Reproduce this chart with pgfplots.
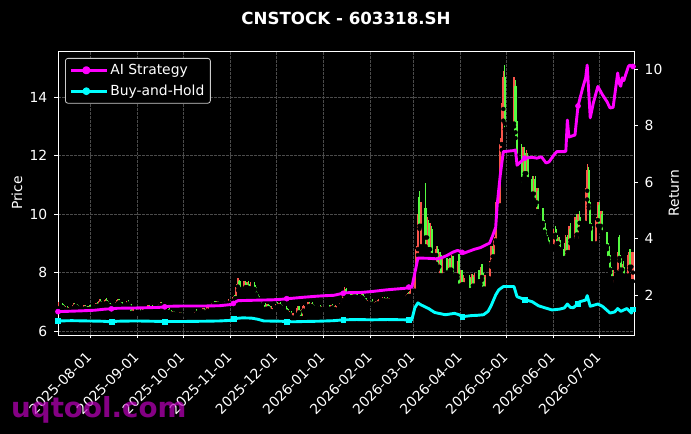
\documentclass[border=0pt]{standalone}
\usepackage{pgfplots}
\pgfplotsset{compat=1.18}
\usepackage{pgfplotstable}
\usepackage{fontspec}
\setmainfont{DejaVu Sans}
\definecolor{cup}{RGB}{250,85,75}
\definecolor{cdown}{RGB}{85,250,65}
\definecolor{gridc}{RGB}{75,75,75}
\definecolor{legc}{RGB}{204,204,204}
\definecolor{wm}{RGB}{190,0,190}
\definecolor{mag}{RGB}{255,0,255}
\definecolor{cya}{RGB}{0,255,255}
\newcommand\tf{\fontsize{13.89bp}{16bp}\selectfont}

\pgfplotstableread{
d o h l c
-21 6.78 6.98 6.72 6.92
-18 6.92 6.96 6.78 6.82
-17 6.82 6.90 6.70 6.75
-16 6.75 6.85 6.66 6.80
-15 6.80 6.84 6.68 6.72
-14 6.72 6.82 6.65 6.78
-11 6.78 6.95 6.74 6.90
-10 6.90 6.96 6.80 6.84
-9 6.84 6.92 6.76 6.88
-8 6.88 6.94 6.78 6.80
-7 6.80 6.86 6.70 6.76
-4 6.76 6.88 6.72 6.85
-3 6.85 6.90 6.74 6.78
-2 6.78 6.84 6.70 6.74
-1 6.74 6.86 6.70 6.82
0 6.82 6.88 6.72 6.76
3 6.76 6.90 6.72 6.86
4 6.86 6.96 6.80 6.92
5 6.92 7.00 6.82 6.86
6 6.86 7.10 6.84 7.04
7 7.04 7.08 6.90 6.94
10 6.94 7.10 6.90 7.05
11 7.05 7.12 6.92 6.96
12 6.96 7.02 6.85 6.88
13 6.88 6.96 6.80 6.84
14 6.84 6.92 6.76 6.88
17 6.88 6.98 6.84 6.94
18 6.94 7.10 6.90 7.06
19 7.06 7.10 6.92 6.98
20 6.98 7.04 6.86 6.90
21 6.90 6.98 6.82 6.86
24 6.86 7.02 6.84 6.98
25 6.98 7.06 6.90 6.94
26 6.94 7.00 6.80 6.84
27 6.84 6.92 6.56 6.62
28 6.62 6.80 6.58 6.74
31 6.74 6.78 6.60 6.66
32 6.66 6.76 6.58 6.72
33 6.72 6.74 6.56 6.60
34 6.60 6.70 6.54 6.66
35 6.66 6.78 6.62 6.74
38 6.74 6.88 6.70 6.84
39 6.84 6.90 6.74 6.78
40 6.78 6.86 6.72 6.82
41 6.82 6.88 6.74 6.76
42 6.76 6.84 6.70 6.80
45 6.80 6.92 6.76 6.88
46 6.88 6.98 6.82 6.94
47 6.94 7.00 6.84 6.88
48 6.88 6.94 6.78 6.82
49 6.82 6.88 6.72 6.76
52 6.76 6.80 6.62 6.66
53 6.66 6.72 6.54 6.58
54 6.58 6.68 6.52 6.64
55 6.64 6.70 6.56 6.60
56 6.60 6.66 6.50 6.56
59 6.56 6.64 6.50 6.60
60 6.60 6.66 6.52 6.56
69 6.56 6.70 6.52 6.66
70 6.66 6.74 6.56 6.62
73 6.62 6.72 6.54 6.68
74 6.68 6.78 6.60 6.74
75 6.74 6.80 6.58 6.62
76 6.62 6.74 6.50 6.70
77 6.70 6.86 6.66 6.82
80 6.82 6.96 6.80 6.92
81 6.92 7.00 6.86 6.96
82 6.96 7.02 6.88 6.92
83 6.92 7.04 6.88 7.00
84 7.00 7.04 6.90 6.94
87 6.94 7.00 6.88 6.96
88 6.96 7.02 6.90 6.94
89 6.94 7.00 6.86 6.98
90 6.98 7.04 6.92 6.96
91 6.96 7.08 6.94 7.04
94 7.04 7.20 7.00 7.16
95 7.16 7.22 7.06 7.12
96 7.12 7.60 7.10 7.52
97 7.52 7.82 7.40 7.70
98 7.70 7.76 7.38 7.44
101 7.44 7.70 7.40 7.64
102 7.64 7.72 7.46 7.50
103 7.50 7.68 7.44 7.62
104 7.62 7.70 7.40 7.46
105 7.46 7.66 7.42 7.58
108 7.58 7.68 7.40 7.44
109 7.44 7.50 7.22 7.26
110 7.26 7.34 7.08 7.12
111 7.12 7.20 6.96 7.00
112 7.00 7.06 6.84 6.88
115 6.88 6.96 6.72 6.76
116 6.76 6.92 6.70 6.88
117 6.88 6.94 6.74 6.78
118 6.78 6.86 6.62 6.68
119 6.68 6.84 6.64 6.80
122 6.80 6.94 6.76 6.90
123 6.90 6.98 6.82 6.86
124 6.86 6.96 6.78 6.92
125 6.92 6.98 6.80 6.84
126 6.84 6.90 6.74 6.78
129 6.78 6.84 6.62 6.66
130 6.66 6.74 6.52 6.58
131 6.58 6.70 6.50 6.64
132 6.64 6.70 6.40 6.46
133 6.46 6.62 6.38 6.56
136 6.56 6.86 6.52 6.80
137 6.80 6.84 6.60 6.64
138 6.64 6.72 6.38 6.44
139 6.44 6.76 6.40 6.70
140 6.70 6.88 6.66 6.84
143 6.84 6.98 6.80 6.94
144 6.94 7.00 6.82 6.86
145 6.86 6.96 6.78 6.92
146 6.92 6.98 6.80 6.84
147 6.84 6.90 6.74 6.78
150 6.78 6.86 6.72 6.82
151 6.82 6.88 6.74 6.76
152 6.76 6.84 6.70 6.80
157 6.80 6.88 6.72 6.76
158 6.76 6.90 6.74 6.86
159 6.86 6.92 6.76 6.80
160 6.80 6.86 6.70 6.74
161 6.74 6.88 6.72 6.84
164 6.84 6.96 6.80 6.92
165 6.92 7.10 6.90 7.06
166 7.06 7.30 7.02 7.24
167 7.24 7.50 7.20 7.44
168 7.44 7.48 7.20 7.26
171 7.26 7.36 7.10 7.16
172 7.16 7.30 7.12 7.26
173 7.26 7.34 7.14 7.18
174 7.18 7.30 7.10 7.24
175 7.24 7.32 7.12 7.16
178 7.16 7.26 7.06 7.22
179 7.22 7.28 7.08 7.12
180 7.12 7.20 7.00 7.04
181 7.04 7.12 6.92 6.96
182 6.96 7.06 6.88 7.02
185 7.02 7.10 6.90 6.94
186 6.94 7.00 6.86 6.90
187 6.90 7.02 6.86 6.98
188 6.98 7.04 6.90 6.94
189 6.94 7.10 6.92 7.06
192 7.06 7.16 7.00 7.12
193 7.12 7.18 7.00 7.04
194 7.04 7.14 6.98 7.10
195 7.10 7.16 7.00 7.04
196 7.04 7.12 6.96 7.08
207 7.08 7.22 7.04 7.18
208 7.18 7.30 7.12 7.26
209 7.26 7.34 7.16 7.20
210 7.20 7.42 7.18 7.38
213 7.38 8.10 7.36 8.06
214 8.06 8.90 8.00 8.80
215 8.80 10.00 8.60 9.90
216 10.60 10.80 9.50 9.60
217 9.60 10.40 8.90 10.20
220 10.20 11.06 8.90 9.20
221 9.20 9.90 8.80 9.70
222 9.70 9.80 8.70 8.80
223 8.80 9.70 8.60 9.50
224 9.50 9.60 8.50 8.60
227 8.60 8.90 8.30 8.80
228 8.80 8.90 8.10 8.20
229 8.20 8.70 7.90 8.60
230 8.60 8.70 7.80 7.90
231 7.90 8.50 7.80 8.40
234 8.40 8.50 7.90 8.00
235 8.00 8.45 7.85 8.35
236 8.35 8.50 7.95 8.10
237 8.10 8.60 8.00 8.50
238 8.50 8.55 7.80 7.90
241 7.90 8.40 7.80 8.30
242 8.30 8.65 7.45 7.55
243 7.55 8.10 7.45 8.00
244 8.00 8.10 7.50 7.60
245 7.60 7.90 7.40 7.80
249 7.80 7.90 7.30 7.40
250 7.40 7.95 7.30 7.85
251 7.85 7.95 7.45 7.55
252 7.55 8.00 7.45 7.90
255 7.90 8.10 7.60 7.70
256 7.70 8.20 7.60 8.10
257 8.10 8.30 7.75 7.85
258 7.85 8.00 7.35 7.45
259 7.45 7.90 7.40 7.80
262 7.80 8.40 7.70 8.30
263 8.30 8.90 8.20 8.80
264 8.80 8.90 8.40 8.55
265 8.55 9.20 8.45 9.10
266 9.10 10.40 9.00 10.30
269 10.30 12.60 10.20 12.40
270 12.40 13.80 12.20 13.60
271 13.60 14.90 13.20 14.70
272 14.70 15.10 12.90 13.10
278 13.10 14.70 13.00 14.40
279 14.40 14.60 12.60 12.80
280 12.80 13.20 11.80 12.00
283 12.00 12.40 11.00 11.20
284 11.20 12.30 11.10 12.10
285 12.10 12.30 11.30 11.40
286 11.40 12.20 11.20 12.00
287 12.00 12.10 11.10 11.20
290 11.20 11.30 10.60 10.70
291 10.70 11.30 10.50 11.20
292 11.20 11.30 10.30 10.40
293 10.40 10.90 10.10 10.80
294 10.80 10.90 10.00 10.10
297 10.10 10.20 9.60 9.70
298 9.70 9.80 9.30 9.40
299 9.40 9.50 9.10 9.20
300 9.20 9.30 8.90 9.00
301 9.00 9.10 8.80 8.90
304 8.90 9.50 8.80 9.40
305 9.40 9.60 9.20 9.30
306 9.30 9.50 8.90 9.00
307 9.00 9.20 8.85 9.10
308 9.10 9.20 8.70 8.80
311 8.80 9.00 8.40 8.50
312 8.50 9.30 8.40 9.20
313 9.20 9.30 8.60 8.70
314 8.70 9.60 8.60 9.50
315 9.50 9.70 9.00 9.10
318 9.10 9.90 9.00 9.80
319 9.80 10.00 9.20 9.30
320 9.30 10.00 9.10 9.90
321 9.90 10.10 9.50 9.70
325 9.70 10.90 9.60 10.80
326 10.80 11.70 10.50 11.50
327 11.50 11.60 10.20 10.30
328 10.30 10.40 9.50 9.60
329 9.60 9.70 8.90 9.00
332 9.00 9.90 8.90 9.80
333 9.80 10.40 9.60 10.30
334 10.30 10.40 9.50 9.60
335 9.60 10.10 9.40 10.00
336 10.00 10.10 9.20 9.30
339 9.30 9.40 8.80 8.90
340 8.90 9.00 8.40 8.50
341 8.50 8.60 8.00 8.10
342 8.10 8.20 7.70 7.80
343 7.80 8.10 7.60 8.00
346 8.00 8.70 7.90 8.60
347 9.20 9.30 8.40 8.50
348 8.50 8.60 8.00 8.10
349 8.10 8.30 7.90 8.20
350 8.20 8.40 7.80 7.90
353 7.90 8.70 7.80 8.60
354 8.60 8.80 8.10 8.20
355 8.20 8.70 7.70 8.60
356 8.00 8.70 7.70 8.50
}\candles

\begin{document}
\begin{tikzpicture}
\fill[black] (0,0) rectangle (691bp,434bp);
\begin{axis}[
  at={(58bp,99bp)}, anchor=south west, scale only axis,
  width=576bp, height=284bp,
  xmin=-21, xmax=356.7, ymin=5.863, ymax=15.585,
  axis line style={white, line width=0.8bp},
  tick style={white, line width=0.8bp}, major tick length=3.5bp, tick align=outside,
  xtick pos=bottom, ytick pos=left,
  xtick={0,31,61,92,122,153,184,212,243,273,304,334},
  xticklabels={2025-08-01,2025-09-01,2025-10-01,2025-11-01,2025-12-01,2026-01-01,2026-02-01,2026-03-01,2026-04-01,2026-05-01,2026-06-01,2026-07-01},
  x tick label style={xshift=-5bp, yshift=-12bp, rotate=45, anchor=north east, inner sep=0pt, font=\tf, text=white},
  ytick={6,8,10,12,14},
  y tick label style={font=\tf, text=white, inner sep=0pt, xshift=-7bp},
  /pgf/number format/assume math mode=true,
  grid=major, major grid style={gridc, dash pattern=on 2.5bp off 1.5bp, line width=0.6bp},
  ylabel={Price}, ylabel style={font=\tf, text=white, at={(axis description cs:-0.0712,0.5)}, anchor=center},
]
\addplot[only marks, mark=none, forget plot, error bars/.cd, y dir=plus, y explicit, error mark=none, error bar style={draw=cup, line width=1.3bp}]
  table[x=d, y expr={(\thisrow{c}>=\thisrow{o}) ? \thisrow{l} : -50}, y error expr={\thisrow{h}-\thisrow{l}}] {\candles};
\addplot[only marks, mark=none, forget plot, error bars/.cd, y dir=plus, y explicit, error mark=none, error bar style={draw=cup, line width=2.1bp}]
  table[x=d, y expr={(\thisrow{c}>=\thisrow{o}) ? \thisrow{o} : -50}, y error expr={abs(\thisrow{c}-\thisrow{o})}] {\candles};
\addplot[only marks, mark=none, forget plot, error bars/.cd, y dir=plus, y explicit, error mark=none, error bar style={draw=cdown, line width=1.3bp}]
  table[x=d, y expr={(\thisrow{c}<\thisrow{o}) ? \thisrow{l} : -50}, y error expr={\thisrow{h}-\thisrow{l}}] {\candles};
\addplot[only marks, mark=none, forget plot, error bars/.cd, y dir=plus, y explicit, error mark=none, error bar style={draw=cdown, line width=2.1bp}]
  table[x=d, y expr={(\thisrow{c}<\thisrow{o}) ? \thisrow{c} : -50}, y error expr={abs(\thisrow{c}-\thisrow{o})}] {\candles};
\end{axis}

\begin{axis}[
  at={(58bp,99bp)}, anchor=south west, scale only axis,
  width=576bp, height=284bp,
  xmin=-21, xmax=356.7, ymin=0.582, ymax=10.649,
  axis line style={draw=none},
  tick style={white, line width=0.8bp}, major tick length=3.5bp, tick align=outside,
  xtick=\empty, ytick pos=right,
  ytick={2,4,6,8,10},
  y tick label style={font=\tf, text=white, inner sep=0pt, xshift=7bp},
  /pgf/number format/assume math mode=true,
  ylabel={Return}, ylabel style={font=\tf, text=white, at={(axis description cs:1.0694,0.5)}, anchor=center},
  legend style={at={(axis description cs:0,1)}, anchor=north west, xshift=7bp, yshift=-7bp,
    fill=black, draw=legc, line width=0.8bp, rounded corners=2.5bp, text=white, font=\tf,
    inner xsep=4bp, inner ysep=4bp, row sep=5bp},
  legend cell align=left,
]
\addplot[mag, line width=2.9bp, line join=round,
  legend image code/.code={\path (0bp,0bp) -- (36bp,0bp); \draw[mag, line width=2.9bp] (0bp,0bp) -- (31bp,0bp); \fill[mag] (15.5bp,0bp) circle (2.6bp);}]
coordinates {(-21,1.41) (-15,1.42) (-5,1.44) (3,1.46) (10,1.50) (14,1.51) (18,1.53) (30,1.54) (45,1.56) (49,1.58) (52,1.60) (60,1.61) (75,1.61) (85,1.62) (92,1.66) (94,1.70) (95,1.74) (97,1.80) (105,1.81) (120,1.83) (126,1.85) (129,1.87) (132,1.88) (140,1.92) (147,1.95) (152,1.97) (160,1.99) (164,2.04) (166,2.06) (168,2.08) (178,2.09) (186,2.13) (194,2.18) (207,2.24) (209,2.28) (210,2.30) (211,2.27) (213,2.78) (215,3.31) (222,3.30) (228,3.28) (231,3.33) (234,3.40) (238,3.52) (241,3.58) (243,3.54) (244,3.51) (245,3.48) (249,3.56) (252,3.62) (256,3.68) (259,3.76) (262,3.84) (264,4.10) (266,4.40) (267,5.20) (269,6.25) (271,7.08) (278,7.12) (279,7.14) (280,6.60) (283,6.75) (285,6.85) (290,6.88) (293,6.85) (296,6.90) (299,6.68) (301,6.72) (304,6.95) (306,7.08) (311,7.08) (312,7.10) (313,8.20) (314,7.60) (318,7.67) (319,8.20) (320,8.70) (323,9.33) (325,9.70) (326,10.15) (327,9.20) (328,8.28) (330,8.80) (332,9.20) (333,9.39) (336,9.10) (339,8.85) (341,8.63) (343,8.65) (346,9.87) (347,9.50) (348,9.40) (349,9.70) (350,9.60) (353,10.10) (354,10.15) (356,10.10)};
\addlegendentry{AI Strategy}
\addplot[cya, line width=2.9bp, line join=round,
  legend image code/.code={\path (0bp,0bp) -- (36bp,0bp); \draw[cya, line width=2.9bp] (0bp,0bp) -- (31bp,0bp); \fill[cya] (13.1bp,-2.4bp) rectangle (17.9bp,2.4bp);}]
coordinates {(-21,1.08) (-12,1.09) (-2,1.08) (8,1.07) (14,1.05) (18,1.07) (30,1.08) (40,1.07) (49,1.06) (60,1.06) (75,1.07) (85,1.08) (92,1.10) (94,1.15) (96,1.17) (100,1.19) (106,1.18) (110,1.14) (114,1.08) (125,1.07) (129,1.06) (133,1.05) (140,1.06) (150,1.07) (160,1.09) (166,1.12) (175,1.13) (185,1.12) (195,1.13) (207,1.12) (209,1.13) (210,1.14) (211,1.12) (213,1.55) (215,1.72) (217,1.65) (222,1.52) (226,1.38) (233,1.30) (239,1.35) (242,1.30) (244,1.23) (250,1.27) (254,1.28) (258,1.30) (261,1.42) (263,1.62) (266,2.00) (268,2.18) (271,2.30) (278,2.30) (280,1.94) (285,1.84) (290,1.76) (294,1.62) (298,1.55) (303,1.47) (308,1.50) (311,1.54) (313,1.68) (315,1.56) (317,1.55) (320,1.70) (321,1.76) (325,1.82) (326,1.98) (328,1.60) (333,1.68) (336,1.60) (341,1.36) (344,1.40) (346,1.52) (348,1.42) (352,1.52) (355,1.36) (356,1.50)};
\addlegendentry{Buy-and-Hold}
\addplot[only marks, mark=*, mark size=2.6bp, mag, forget plot]
coordinates {(-21,1.41) (14,1.51) (49,1.58) (94,1.70) (129,1.87) (166,2.06) (209,2.28) (244,3.51) (285,6.85) (320,8.70) (356,10.10)};
\addplot[only marks, mark=square*, mark size=2.4bp, cya, forget plot]
coordinates {(-21,1.08) (14,1.05) (49,1.06) (94,1.15) (129,1.06) (166,1.12) (209,1.13) (244,1.23) (285,1.84) (320,1.70) (356,1.50)};
\end{axis}

\node[anchor=base, text=white, font=\fontsize{16.67bp}{20bp}\selectfont\bfseries] at (346bp,409bp) {CNSTOCK - 603318.SH};
\node[anchor=base west, inner sep=0pt, text=wm, opacity=0.7, font=\fontsize{27.7bp}{32bp}\selectfont\bfseries] at (11bp,17bp) {uqtool.com};
\end{tikzpicture}
\end{document}
